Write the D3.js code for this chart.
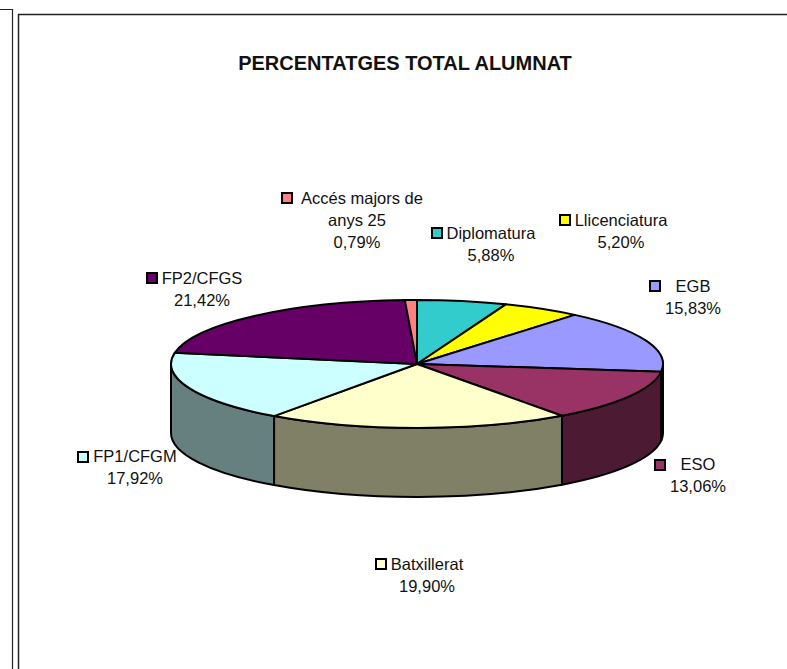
<!DOCTYPE html>
<html>
<head>
  <meta charset="UTF-8">
  <title>Percentatges total alumnat</title>
  <script src="https://d3js.org/d3.v7.min.js"></script>
  <style>
    html, body { margin: 0; padding: 0; background: #fff; }
    svg { display: block; }
    text { font-family: "Liberation Sans", Arial, sans-serif; fill: #111; }
  </style>
</head>
<body>
  <svg width="787" height="669"></svg>
  <script>
    const title = "PERCENTATGES TOTAL ALUMNAT";
    const categories = ["Diplomatura", "Llicenciatura", "EGB", "ESO", "Batxillerat", "FP1/CFGM", "FP2/CFGS", "Accés majors de anys 25"];
    const values = [5.88, 5.20, 15.83, 13.06, 19.90, 17.92, 21.42, 0.79];
    const colors = ["#33cccc", "#ffff00", "#9999ff", "#993366", "#ffffcc", "#ccffff", "#660066", "#ff8080"];

    const svg = d3.select("svg");
    const W = +svg.attr("width"), H = +svg.attr("height");

    // pie geometry
    const cx = 417, cy = 364, rx = 246, ry = 64, depth = 69;

    // where each label goes: swatch left, swatch middle y, text centre, first baseline
    // nx = centre of the name line when it is not lined up with the rest
    const labelLayout = [
      { sx: 431, sy: 233, tx: 491, by: 239 },
      { sx: 559, sy: 220, tx: 621, by: 226 },
      { sx: 649, sy: 286, tx: 693, by: 292 },
      { sx: 654, sy: 465, tx: 698, by: 470 },
      { sx: 375, sy: 564, tx: 427, by: 570 },
      { sx: 77, sy: 457, tx: 135, by: 462 },
      { sx: 146, sy: 278, tx: 202, by: 284 },
      { sx: 281, sy: 198, tx: 357, by: 204, nx: 362 }
    ];

    // panel borders
    svg.append("path").attr("d", `M0,9.5H12.5V${H}`)
      .attr("fill", "none").attr("stroke", "#222").attr("stroke-width", 1.2);
    svg.append("path").attr("d", `M${W},14.5H18.5V${H}`)
      .attr("fill", "none").attr("stroke", "#222").attr("stroke-width", 1.5);

    svg.append("text").attr("x", 405).attr("y", 70)
      .attr("text-anchor", "middle")
      .attr("font-size", 20).attr("font-weight", "bold")
      .text(title);

    const pie = d3.pie().sort(null).value(d => d.v);
    const slices = pie(values.map((v, i) => ({ v, i })));
    const darken = c => { const k = d3.rgb(c); return d3.rgb(k.r / 2, k.g / 2, k.b / 2).formatHex(); };
    const ex = a => cx + rx * Math.sin(a);
    const ey = a => cy - ry * Math.cos(a);

    // side walls: only the front half of the ellipse shows
    const wall = svg.append("g");
    slices.forEach(s => {
      const a0 = Math.max(s.startAngle, Math.PI / 2);
      const a1 = Math.min(s.endAngle, Math.PI * 1.5);
      if (a1 <= a0) return;
      const d = `M${ex(a0)},${ey(a0)}` +
        `A${rx},${ry} 0 0 1 ${ex(a1)},${ey(a1)}` +
        `V${ey(a1) + depth}` +
        `A${rx},${ry} 0 0 0 ${ex(a0)},${ey(a0) + depth}Z`;
      wall.append("path").attr("d", d)
        .attr("fill", darken(colors[s.data.i]))
        .attr("stroke", "#000").attr("stroke-width", 2).attr("stroke-linejoin", "round");
    });

    // top face
    const arc = d3.arc().innerRadius(0).outerRadius(rx);
    svg.append("g")
      .attr("transform", `translate(${cx},${cy}) scale(1,${ry / rx})`)
      .selectAll("path")
      .data(slices)
      .enter()
      .append("path")
      .attr("d", arc)
      .attr("fill", d => colors[d.data.i])
      .attr("stroke", "#000")
      .attr("stroke-width", 2)
      .attr("stroke-linejoin", "round")
      .attr("vector-effect", "non-scaling-stroke");

    // labels
    const fmt = v => v.toFixed(2).replace(".", ",") + "%";
    const lineH = 22;
    const nameLines = n => n === "Accés majors de anys 25" ? ["Accés majors de", "anys 25"] : [n];
    slices.forEach(s => {
      const i = s.data.i, p = labelLayout[i];
      const g = svg.append("g");
      g.append("rect").attr("x", p.sx + 1).attr("y", p.sy - 5)
        .attr("width", 10).attr("height", 10)
        .attr("fill", colors[i]).attr("stroke", "#000").attr("stroke-width", 2);
      const lines = nameLines(categories[i]).concat(fmt(values[i]));
      lines.forEach((t, j) => {
        g.append("text").attr("x", j === 0 && p.nx ? p.nx : p.tx).attr("y", p.by + j * lineH)
          .attr("text-anchor", "middle").attr("font-size", 16.5).text(t);
      });
    });
  </script>
</body>
</html>
